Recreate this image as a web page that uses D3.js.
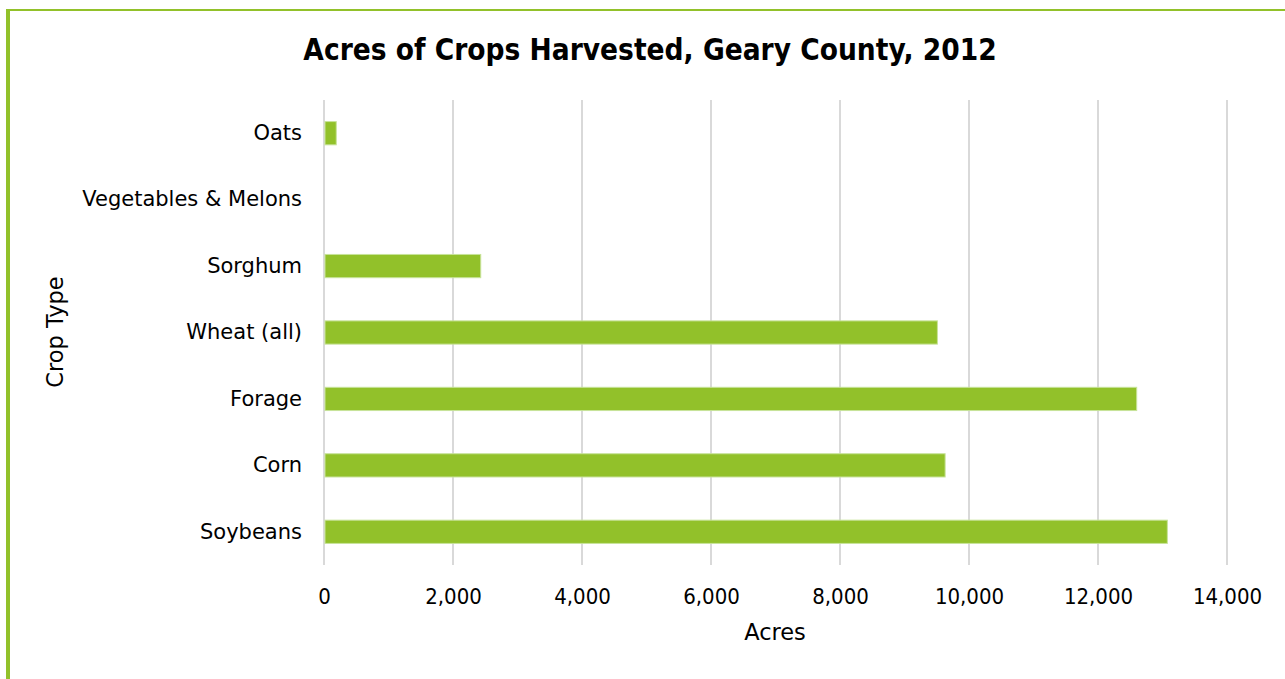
<!DOCTYPE html>
<html>
<head>
<meta charset="utf-8">
<script src="https://cdn.jsdelivr.net/npm/d3@7"></script>
<style>
  html, body { margin: 0; padding: 0; background: #fff; }
  svg { display: block; }
</style>
</head>
<body>
<svg id="chart" width="1285" height="679"></svg>
<script>
// Harvested acreage by crop, Geary County 2012 (top-to-bottom order)
const crops = ["Oats", "Vegetables & Melons", "Sorghum", "Wheat (all)", "Forage", "Corn", "Soybeans"];
const acres = [190, 0, 2430, 9510, 12600, 9630, 13075];
const xTicks = [0, 2000, 4000, 6000, 8000, 10000, 12000, 14000];

const W = 1285, H = 679;
const margin = { top: 100, right: 58, bottom: 114, left: 324 };
const green = "#92c12a";
const FONT = '"DejaVu Sans", Verdana, sans-serif';
const FONT_NARROW = '"DejaVu Sans Condensed", "DejaVu Sans", sans-serif';

const svg = d3.select("#chart");

// Frame accents
svg.append("rect").attr("x", 6).attr("y", 9).attr("width", W - 6).attr("height", 2).attr("fill", green);
svg.append("rect").attr("x", 6).attr("y", 9).attr("width", 4).attr("height", H - 9).attr("fill", green);

const x = d3.scaleLinear().domain([0, 14000]).range([margin.left, W - margin.right]);
const y = d3.scaleBand().domain(crops).range([margin.top, H - margin.bottom])
  .paddingInner(0.65).paddingOuter(0.325);

// Vertical gridlines
svg.append("g").selectAll("line").data(xTicks).join("line")
  .attr("x1", d => x(d)).attr("x2", d => x(d))
  .attr("y1", margin.top).attr("y2", H - margin.bottom)
  .attr("stroke", "#d9d9d9").attr("stroke-width", 2);

// Bars
const rows = crops.map((c, i) => ({ crop: c, value: acres[i] }));
svg.append("g").selectAll("rect").data(rows.filter(d => d.value > 0)).join("rect")
  .attr("x", x(0) + 1)
  .attr("y", d => y(d.crop))
  .attr("width", d => x(d.value) - x(0) - 1)
  .attr("height", y.bandwidth())
  .attr("fill", green)
  .attr("stroke", "#c8e39a").attr("stroke-width", 1);

// X axis tick labels
const xAxis = d3.axisBottom(x).tickValues(xTicks).tickFormat(d3.format(",")).tickSize(0).tickPadding(0);
const gx = svg.append("g").attr("transform", `translate(0,${H - margin.bottom + 23})`).call(xAxis)
  .attr("font-family", FONT_NARROW).attr("font-size", 22);
gx.select(".domain").remove();
gx.selectAll("text").attr("fill", "#000");

// Y axis category labels
const yAxis = d3.axisLeft(y).tickSize(0).tickPadding(22);
const gy = svg.append("g").attr("transform", `translate(${margin.left},0)`).call(yAxis)
  .attr("font-family", FONT).attr("font-size", 21);
gy.select(".domain").remove();
gy.selectAll("text").attr("fill", "#000");

// Title
svg.append("text").attr("x", 650).attr("y", 60).attr("text-anchor", "middle")
  .attr("font-family", FONT_NARROW).attr("font-size", 29.5).attr("font-weight", "bold").attr("fill", "#000")
  .text("Acres of Crops Harvested, Geary County, 2012");

// Axis titles
svg.append("text").attr("x", 775).attr("y", 640).attr("text-anchor", "middle")
  .attr("font-family", FONT).attr("font-size", 22.5).attr("fill", "#000").text("Acres");
svg.append("text").attr("transform", "translate(63,332) rotate(-90)").attr("text-anchor", "middle")
  .attr("font-family", FONT).attr("font-size", 22.5).attr("fill", "#000").text("Crop Type");
</script>
</body>
</html>
